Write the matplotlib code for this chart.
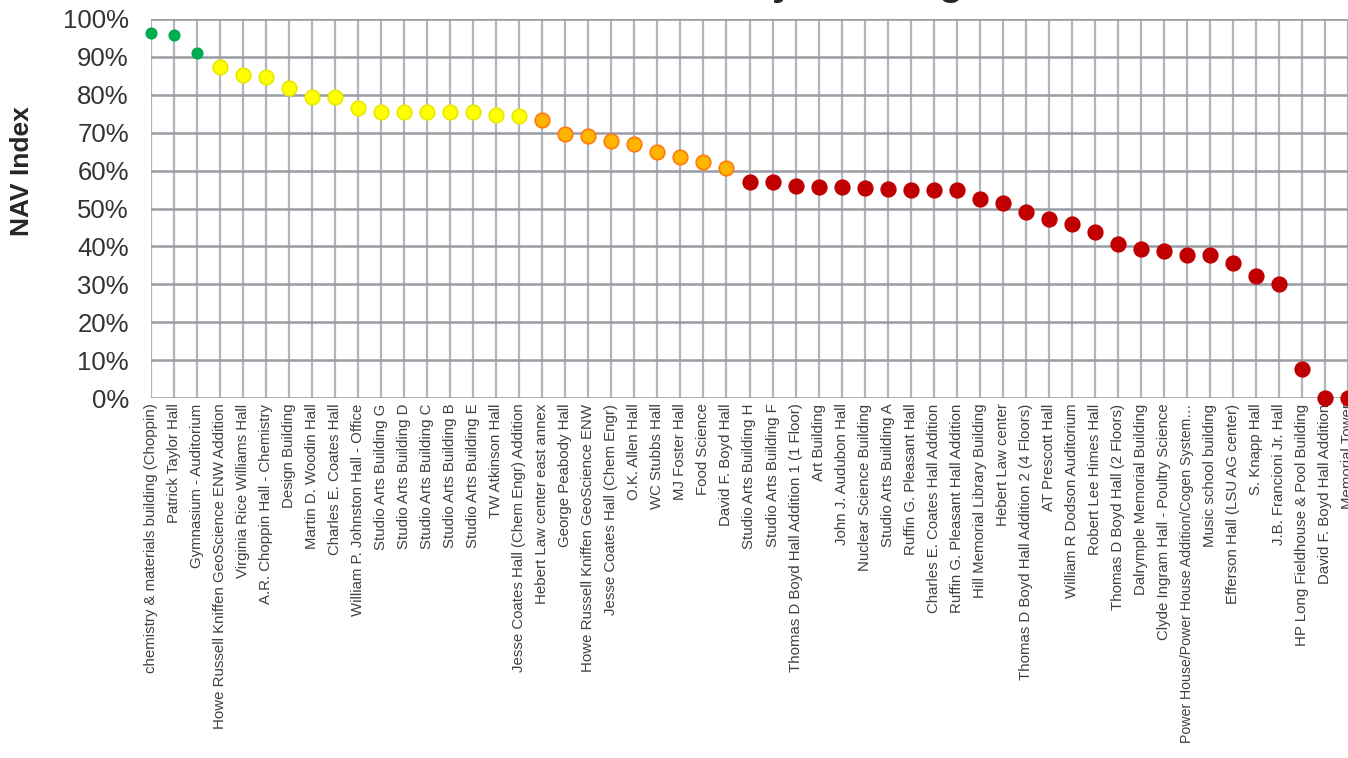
import matplotlib
matplotlib.use("Agg")
import matplotlib.pyplot as plt
from matplotlib.ticker import PercentFormatter

buildings = [
    "chemistry & materials building (Choppin)", "Patrick Taylor Hall",
    "Gymnasium - Auditorium", "Howe Russell Kniffen GeoScience ENW Addition",
    "Virginia Rice Williams Hall", "A.R. Choppin Hall - Chemistry",
    "Design Building", "Martin D. Woodin Hall", "Charles E. Coates Hall",
    "William P. Johnston Hall - Office", "Studio Arts Building G",
    "Studio Arts Building D", "Studio Arts Building C", "Studio Arts Building B",
    "Studio Arts Building E", "TW Atkinson Hall",
    "Jesse Coates Hall (Chem Engr) Addition", "Hebert Law center east annex",
    "George Peabody Hall", "Howe Russell Kniffen GeoScience ENW",
    "Jesse Coates Hall (Chem Engr)", "O.K. Allen Hall", "WC Stubbs Hall",
    "MJ Foster Hall", "Food Science", "David F. Boyd Hall",
    "Studio Arts Building H", "Studio Arts Building F",
    "Thomas D Boyd Hall Addition 1 (1 Floor)", "Art Building",
    "John J. Audubon Hall", "Nuclear Science Building", "Studio Arts Building A",
    "Ruffin G. Pleasant Hall", "Charles E. Coates Hall Addition",
    "Ruffin G. Pleasant Hall Addition", "Hill Memorial Library Building",
    "Hebert Law center", "Thomas D Boyd Hall Addition 2 (4 Floors)",
    "AT Prescott Hall", "William R Dodson Auditorium", "Robert Lee Himes Hall",
    "Thomas D Boyd Hall (2 Floors)", "Dalrymple Memorial Building",
    "Clyde Ingram Hall - Poultry Science",
    "Power House/Power House Addition/Cogen System\u2026",
    "Music school building", "Efferson Hall (LSU AG center)", "S. Knapp Hall",
    "J.B. Francioni Jr. Hall", "HP Long Fieldhouse & Pool Building",
    "David F. Boyd Hall Addition", "Memorial Tower",
]

nav_index = [
    96.2, 95.9, 90.9, 87.3, 85.1, 84.7, 81.8, 79.4, 79.3, 76.4,
    75.5, 75.5, 75.5, 75.5, 75.5, 74.7, 74.5, 73.4, 69.6, 69.1,
    67.8, 67.1, 64.8, 63.7, 62.2, 60.8, 57.0, 57.0, 55.9, 55.6,
    55.6, 55.5, 55.2, 55.0, 55.0, 54.8, 52.5, 51.5, 49.1, 47.2,
    46.0, 43.8, 40.6, 39.4, 38.9, 37.7, 37.6, 35.7, 32.2, 30.2,
    7.6, 0.0, 0.0,
]

plt.rcParams["font.family"] = ["Liberation Sans", "DejaVu Sans"]

fig = plt.figure(figsize=(13.48, 7.58), dpi=100)
ax = fig.add_axes([151 / 1348, 1 - 398 / 758, 1 - 151 / 1348, 379 / 758])

x = list(range(len(buildings)))

# colour bands like the original spreadsheet series
groups = {
    "green": ([], [], dict(color="#00b050", ms=7.5, mec="#00a84c")),
    "yellow": ([], [], dict(color="#ffff00", ms=10.5, mec="#e9e900")),
    "orange": ([], [], dict(color="#ffb400", ms=10.5, mec="#ff7a10")),
    "red": ([], [], dict(color="#c00000", ms=10.5, mec="#c00000")),
}
for i, v in zip(x, nav_index):
    if v >= 90:
        key = "green"
    elif v >= 74:
        key = "yellow"
    elif v >= 60:
        key = "orange"
    else:
        key = "red"
    groups[key][0].append(i)
    groups[key][1].append(v)

for key, (gx, gy, st) in groups.items():
    ax.plot(gx, gy, "o", color=st["color"], markersize=st["ms"],
            markeredgecolor=st["mec"], markeredgewidth=1.2,
            clip_on=False, zorder=5)

ax.set_xlim(0, len(buildings) - 1)
ax.set_ylim(0, 100)
ax.set_xticks(x)
ax.set_xticklabels(buildings, rotation=90, fontsize=10.8, color="#404040")
# the longest name just fits above the bottom edge
for lab in ax.get_xticklabels():
    if lab.get_text().startswith("Power House"):
        lab.set_fontsize(10.2)
ax.set_yticks(range(0, 101, 10))
ax.yaxis.set_major_formatter(PercentFormatter(decimals=0))
ax.tick_params(axis="y", length=0, pad=16, labelsize=18.5, labelcolor="#333333")
ax.tick_params(axis="x", length=0, pad=4)

ax.grid(axis="x", color="#b0b5bd", linewidth=1.6)
ax.grid(axis="y", color="#989ca3", linewidth=1.8)
ax.set_axisbelow(True)
for s in ax.spines.values():
    s.set_visible(False)

fig.text(22 / 1348, 1 - 171 / 758, "NAV Index", rotation=90, ha="center",
         va="center", fontsize=19, fontweight="bold", color="#262626")
# title sits almost entirely above the visible area, as in the cropped original
fig.text(702 / 1348, 1 + 5 / 758, "Net Asset Value by Building", ha="center",
         va="baseline", fontsize=28.5, fontweight="bold", color="#262626")

fig.savefig("out.png", dpi=100)
